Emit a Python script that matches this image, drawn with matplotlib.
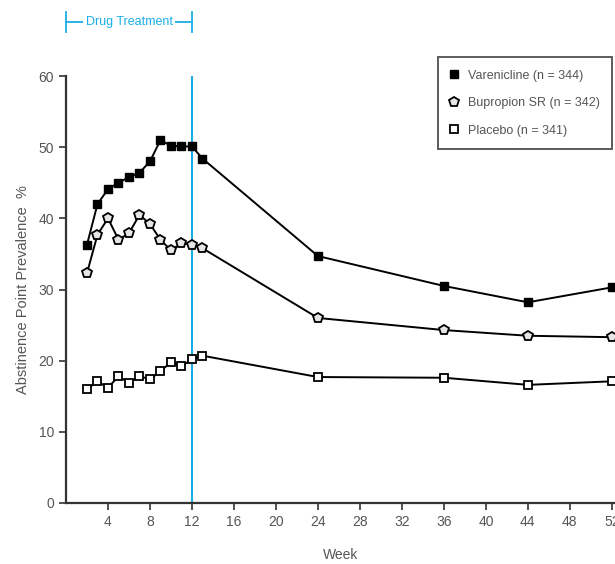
import numpy as np
import matplotlib
matplotlib.use("Agg")
import matplotlib.pyplot as plt

# Values
weeks = [2, 3, 4, 5, 6, 7, 8, 9, 10, 11, 12, 13, 24, 36, 44, 52]
varenicline = [36.3, 42.0, 44.1, 45.0, 45.8, 46.4, 48.0, 51.0, 50.2, 50.1, 50.1, 48.4, 34.7, 30.5, 28.2, 30.3]
bupropion = [32.3, 37.7, 40.0, 37.0, 37.9, 40.5, 39.2, 37.0, 35.5, 36.5, 36.3, 35.8, 26.0, 24.3, 23.5, 23.3]
placebo = [16.0, 17.1, 16.2, 17.8, 16.9, 17.8, 17.4, 18.5, 19.8, 19.2, 20.2, 20.7, 17.7, 17.6, 16.6, 17.1]

labels = ["Varenicline (n = 344)", "Bupropion SR (n = 342)", "Placebo (n = 341)"]
x_ticks = list(range(4, 53, 4))
y_ticks = list(range(0, 61, 10))
treatment_end = 12

plt.rcParams['font.family'] = ['Liberation Sans Narrow', 'Liberation Sans', 'DejaVu Sans']
grey = '#555555'
blue = '#1aaee6'

fig = plt.figure(figsize=(6.15, 5.64), dpi=100)
ax = fig.add_axes([66 / 615, 61 / 564, 549 / 615, 427 / 564])

ax.plot(weeks, varenicline, color='black', lw=1.4, marker='s', ms=6,
        mfc='black', mec='black', label=labels[0], clip_on=False, zorder=3)
ax.plot(weeks, bupropion, color='black', lw=1.4, marker='p', ms=7.5,
        mfc='#e6e6e6', mec='black', mew=1.3, label=labels[1], clip_on=False, zorder=3)
ax.plot(weeks, placebo, color='black', lw=1.4, marker='s', ms=6,
        mfc='white', mec='black', mew=1.3, label=labels[2], clip_on=False, zorder=3)

# end of drug treatment
ax.axvline(treatment_end, ymin=0, ymax=1.0, color=blue, lw=1.5, zorder=2)

ax.set_xlim(0, 52.3)
ax.set_ylim(0, 60)
ax.set_xticks(x_ticks)
ax.set_yticks(y_ticks)
ax.tick_params(direction='out', length=5, width=1.2, colors='#333333',
               labelcolor=grey, labelsize=10)
for side in ['top', 'right']:
    ax.spines[side].set_visible(False)
for side in ['left', 'bottom']:
    ax.spines[side].set_linewidth(1.6)
    ax.spines[side].set_color('#333333')

ax.set_xlabel('Week', color=grey, fontsize=10, labelpad=14)
ax.set_ylabel('Abstinence Point Prevalence  %', color=grey, fontsize=10.5, labelpad=6)

leg = ax.legend(loc='upper right', bbox_to_anchor=(612 / 615, 1 - 57 / 564),
                bbox_transform=fig.transFigure, fontsize=9, frameon=True,
                fancybox=False, edgecolor='#333333', labelcolor=grey,
                handlelength=0.6, handletextpad=0.8, borderpad=1.0,
                labelspacing=1.25, borderaxespad=0)
for h in leg.legend_handles:
    h.set_linestyle('none')
leg.get_frame().set_linewidth(1.4)

# "Drug Treatment" bracket above the plot
y_b = 1 - 22 / 564
x0, x1 = 66 / 615, 192 / 615
fig.add_artist(plt.Line2D([x0, x1], [y_b, y_b], color=blue, lw=1.3))
for xe in (x0, x1):
    fig.add_artist(plt.Line2D([xe, xe], [y_b - 0.017, y_b + 0.017], color=blue, lw=1.3))
fig.text(129 / 615, y_b, 'Drug Treatment', color=blue, fontsize=9,
         ha='center', va='center',
         bbox=dict(facecolor='white', edgecolor='none', pad=1.5))

fig.savefig('out.png', dpi=100)
